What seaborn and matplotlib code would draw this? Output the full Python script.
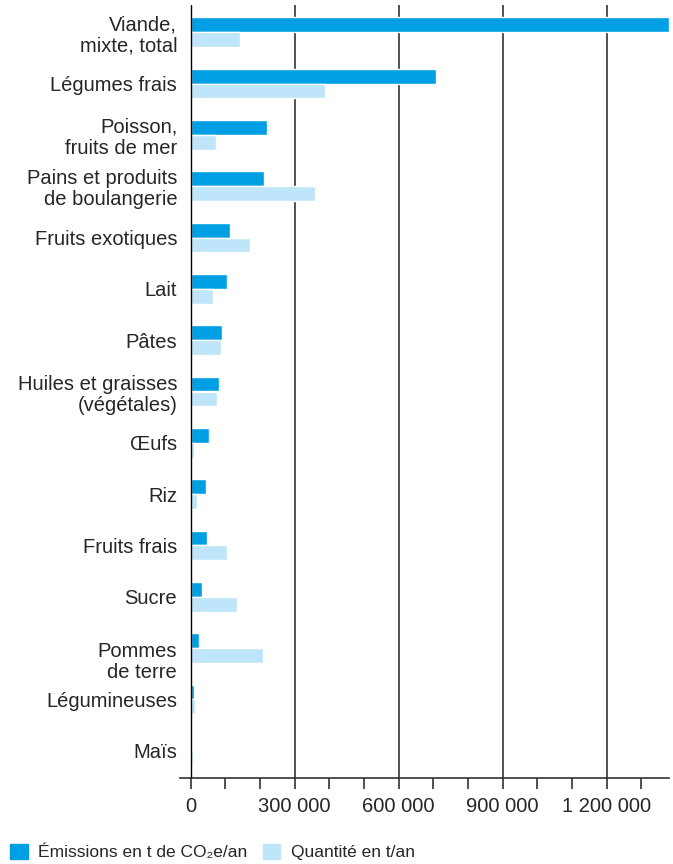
import numpy as np
import pandas as pd
import matplotlib
matplotlib.use("Agg")
import matplotlib.pyplot as plt
import matplotlib.patches as mpatches
from matplotlib.ticker import FixedLocator
from matplotlib.transforms import ScaledTranslation
import seaborn as sns

categories = [
    "Viande,\nmixte, total", "Légumes frais", "Poisson,\nfruits de mer",
    "Pains et produits\nde boulangerie", "Fruits exotiques", "Lait", "Pâtes",
    "Huiles et graisses\n(végétales)", "Œufs", "Riz", "Fruits frais", "Sucre",
    "Pommes\nde terre", "Légumineuses", "Maïs",
]
emissions = [1380000, 709000, 220000, 211000, 113000, 105000, 90000,
             82000, 53000, 44000, 47000, 33000, 24000, 10000, 4000]
quantite = [141000, 386000, 73000, 358000, 171000, 64000, 87000,
            76000, 10000, 18000, 105000, 134000, 209000, 12000, 7000]

series_names = ["Émissions en t de CO₂e/an", "Quantité en t/an"]
palette = {series_names[0]: "#009FE3", series_names[1]: "#BEE5FA"}

x_ticks = [0, 300000, 600000, 900000, 1200000]
x_labels = ["0", "300 000", "600 000", "900 000", "1 200 000"]

df = pd.DataFrame({
    "cat": categories * 2,
    "val": emissions + quantite,
    "serie": [series_names[0]] * len(categories) + [series_names[1]] * len(categories),
})

sns.set_style("white")
plt.rcParams["font.family"] = ["Liberation Sans", "DejaVu Sans"]
plt.rcParams["font.size"] = 14.5

fig = plt.figure(figsize=(6.73, 8.64), dpi=100)
ax = fig.add_axes([180 / 673, 1 - 778 / 864, (669 - 180) / 673, (778 - 5) / 864])

sns.barplot(data=df, y="cat", x="val", hue="serie", palette=palette,
            order=categories, hue_order=series_names, orient="h",
            width=0.58, saturation=1, ax=ax, legend=False, zorder=2)

ax.set_xlim(-31000, 1380000)
ax.set_ylim(14.53, -0.53)
ax.set_xlabel("")
ax.set_ylabel("")

ax.xaxis.set_major_locator(FixedLocator(x_ticks))
ax.set_xticklabels(x_labels, fontsize=14.5)
ax.xaxis.set_minor_locator(FixedLocator(np.arange(0, 1380000, 100000)))
ax.tick_params(axis="x", which="both", direction="out", length=8, width=1.2,
               color="#333333", bottom=True, pad=6)
ax.tick_params(axis="y", length=0, pad=2, labelsize=14.5)
for lab in ax.get_yticklabels():
    lab.set_linespacing(1.15)
    if lab.get_text().startswith("Pommes"):
        lab.set_transform(lab.get_transform()
                          + ScaledTranslation(0, -0.11, fig.dpi_scale_trans))

for x in x_ticks:
    ax.axvline(x, color="#333333" if x else "black", lw=1.2 if x else 1.0,
               zorder=0 if x else 5)

for side in ["top", "right", "left"]:
    ax.spines[side].set_visible(False)
ax.spines["bottom"].set_color("#333333")
ax.spines["bottom"].set_linewidth(1.2)

handles = [mpatches.Patch(color=palette[s], label=s) for s in series_names]
fig.legend(handles=handles, loc="lower left", bbox_to_anchor=(0.0, -0.008),
           ncol=2, frameon=False, fontsize=12.5, handlelength=1.0,
           handleheight=1.0, handletextpad=0.6, columnspacing=0.9,
           borderaxespad=0.2)

fig.savefig("out.png", dpi=100)
